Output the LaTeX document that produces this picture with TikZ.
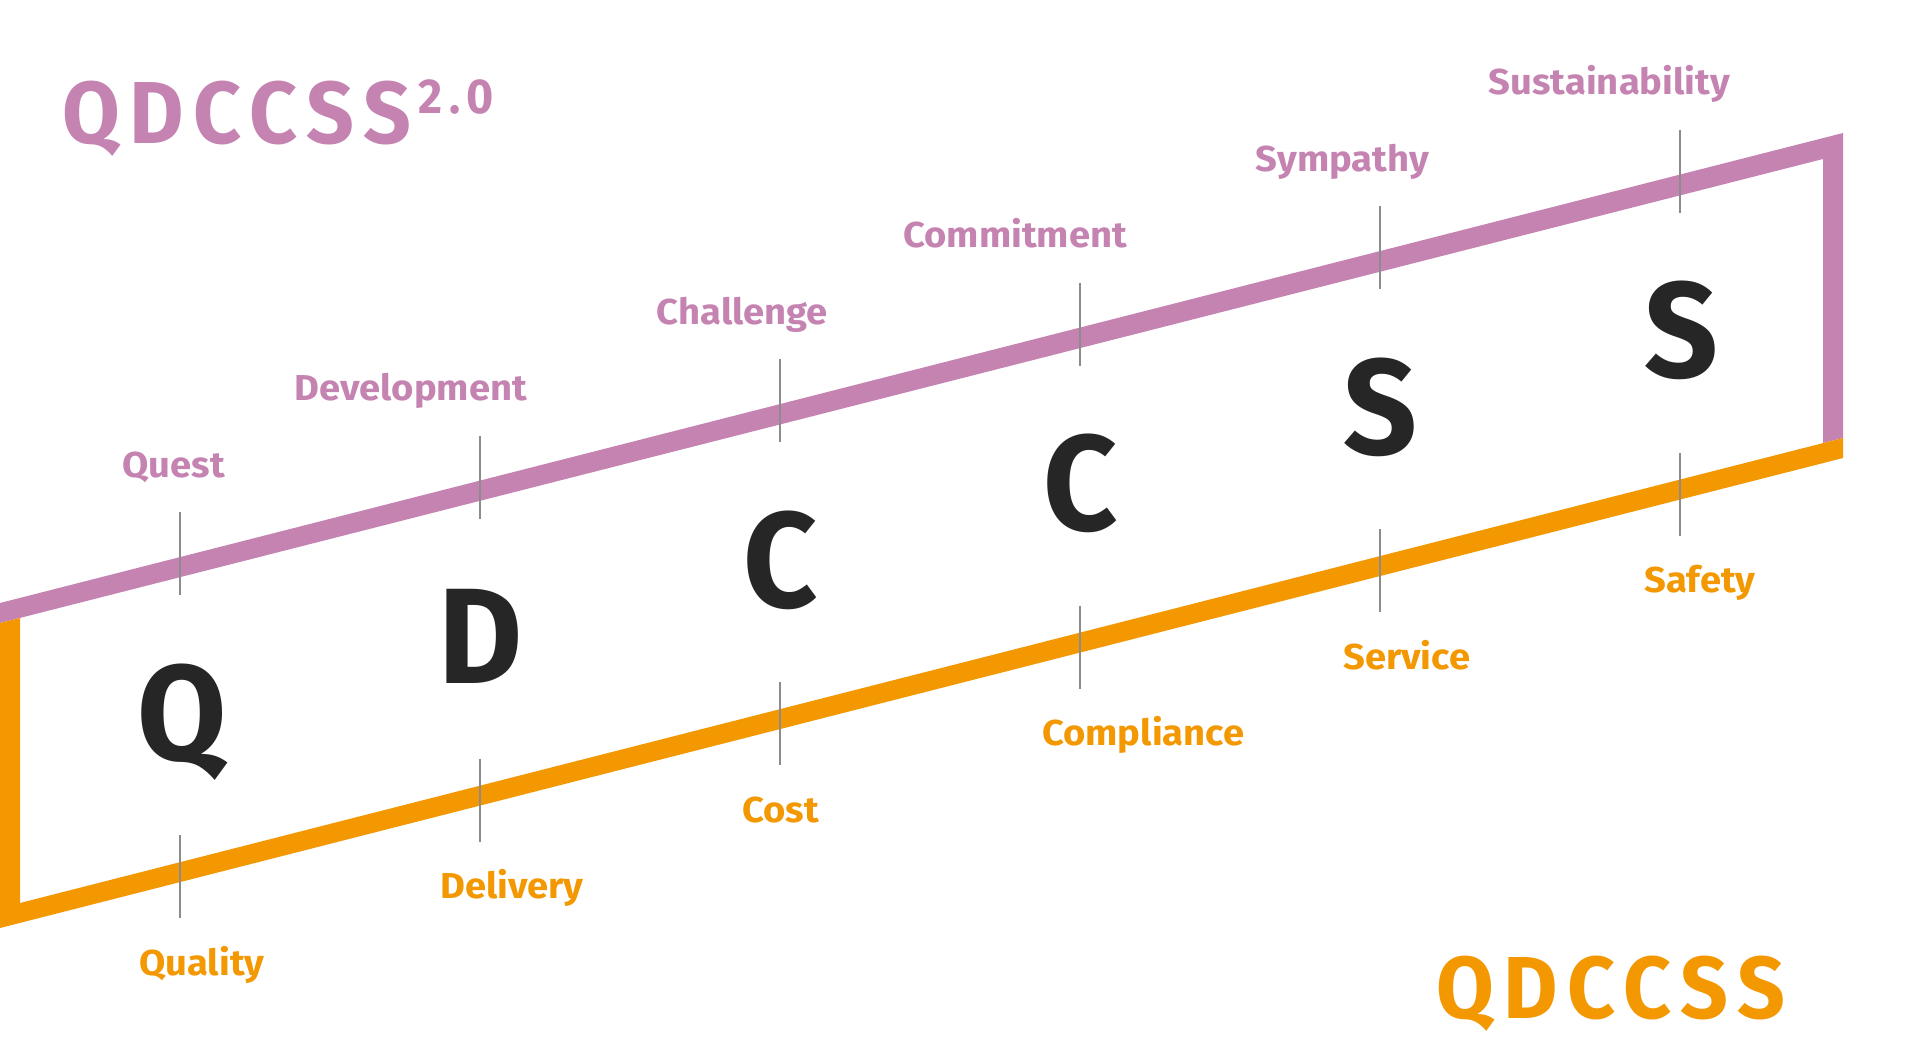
\documentclass[tikz,border=0pt]{standalone}
\usepackage{fontspec}
\setmainfont{Fira Sans}
\newfontfamily\dinfont[FakeStretch=0.95]{Fira Sans}
\newfontfamily\labfont[FakeStretch=1.06]{Fira Sans}
\definecolor{pur}{HTML}{C583B2}
\definecolor{org}{HTML}{F39800}
\definecolor{ink}{HTML}{262626}
\definecolor{tickc}{HTML}{8C8C8C}
\tikzset{
  bigletter/.style={font=\dinfont\bfseries\fontsize{136}{136}\selectfont, text=ink, anchor=base, inner sep=0pt},
  toplabel/.style={font=\labfont\bfseries\fontsize{36}{36}\selectfont, text=pur, anchor=base east, inner sep=0pt},
  botlabel/.style={font=\labfont\bfseries\fontsize{36}{36}\selectfont, text=org, anchor=base west, inner sep=0pt},
  tickline/.style={draw=tickc, line width=1.6pt},
  titlefont/.style={font=\dinfont\bfseries\fontsize{88}{88}\selectfont\addfontfeature{LetterSpace=11}, inner sep=0pt},
  supfont/.style={font=\dinfont\bfseries\fontsize{49}{49}\selectfont\addfontfeature{LetterSpace=14}, inner sep=0pt}
}
\begin{document}
\begin{tikzpicture}[x=1pt,y=-1pt]
\useasboundingbox[fill=white] (0,0) rectangle (1920,1047);
% frame bands
\fill[pur] (0,603) -- (1843,133) -- (1843,438) -- (1823,443) -- (1823,159) -- (0,623) -- cycle;
\fill[org] (0,623) -- (20,618) -- (20,903) -- (1843,438) -- (1843,458) -- (0,928) -- cycle;
% ticks
\foreach \i in {0,...,5}{
  \pgfmathsetmacro\tx{180+300*\i}
  \pgfmathsetmacro\dy{76.5*\i}
  \coordinate (ta\i) at (\tx,512-\dy);
  \coordinate (tb\i) at (\tx,595-\dy);
  \coordinate (ba\i) at (\tx,835-\dy);
  \coordinate (bb\i) at (\tx,918-\dy);
  \draw[tickline] (ta\i) -- (tb\i);
  \draw[tickline] (ba\i) -- (bb\i);
}
% big letters
\node[bigletter] (L0) at (182,760) {Q};
\node[bigletter] (L1) at (481,683.5) {D};
\node[bigletter] (L2) at (781,607) {C};
\node[bigletter] (L3) at (1081,530.5) {C};
\node[bigletter] (L4) at (1380,454) {S};
\node[bigletter] (L5) at (1681,377.5) {S};
% top labels
\node[toplabel] (T0) at (225,477) {Quest};
\node[toplabel] (T1) at (527,400.5) {Development};
\node[toplabel] (T2) at (828,324) {Challenge};
\node[toplabel] (T3) at (1127,247.5) {Commitment};
\node[toplabel] (T4) at (1429,171) {Sympathy};
\node[toplabel] (T5) at (1730,94.5) {Sustainability};
% bottom labels
\node[botlabel] (B0) at (139,975) {Quality};
\node[botlabel] (B1) at (440,898.5) {Delivery};
\node[botlabel] (B2) at (742,822) {Cost};
\node[botlabel] (B3) at (1042,745.5) {Compliance};
\node[botlabel] (B4) at (1343,669) {Service};
\node[botlabel] (B5) at (1644,592.5) {Safety};
% titles
\node[titlefont, text=pur, anchor=base west] (title1) at (62,143) {QDCCSS};
\node[supfont, text=pur, anchor=base west] (sup1) at (418,113) {2.0};
\node[titlefont, text=org, anchor=base west] (title2) at (1436,1018) {QDCCSS};
\end{tikzpicture}
\end{document}
